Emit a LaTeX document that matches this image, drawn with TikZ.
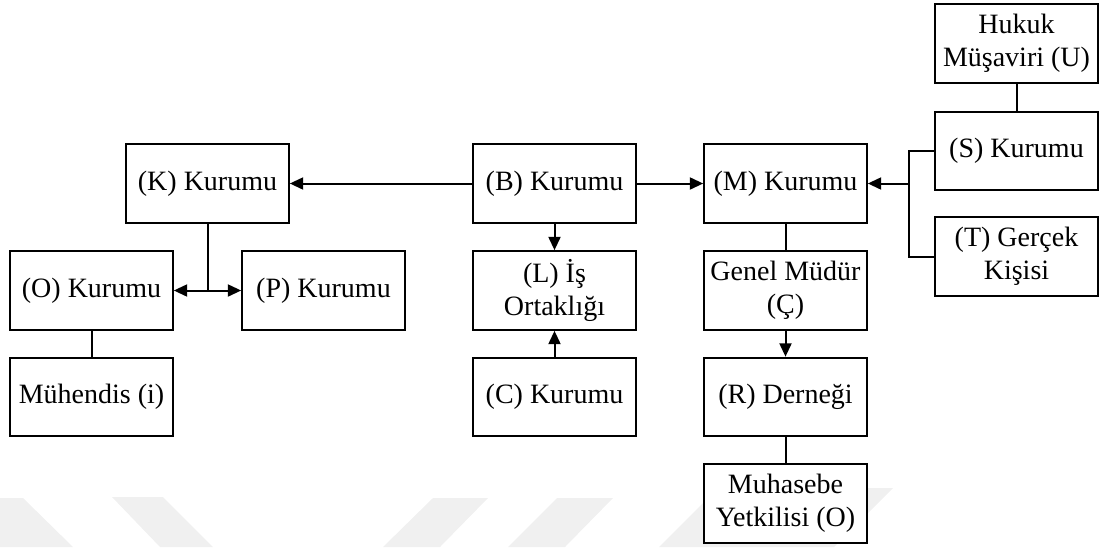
\documentclass[tikz,border=0pt]{standalone}
\usepackage{fontspec}
\setmainfont{Liberation Serif}
\usetikzlibrary{arrows.meta}

\begin{document}
\begin{tikzpicture}[
    x=0.75pt, y=-0.75pt,
    box/.style={draw, fill=white, line width=1.5pt,
                minimum width=122pt, minimum height=59pt,
                inner sep=0pt, align=center,
                font=\fontsize{21}{25}\selectfont},
    link/.style={line width=1.5pt},
    arr/.style={link, -{Triangle[length=10pt,width=9pt]}},
    stripe/.style={fill=black!6}
  ]
  \useasboundingbox (0,0) rectangle (1103,547);

  % faint background stripes along the lower edge
  \fill[stripe] (-10,498) -- (23,498) -- (73,547) -- (-10,547) -- cycle;
  \fill[stripe] (112,497) -- (163,497) -- (213,547) -- (160,547) -- cycle;
  \fill[stripe] (433,498) -- (488,498) -- (440,547) -- (383,547) -- cycle;
  \fill[stripe] (557,498) -- (613,498) -- (565,547) -- (508,547) -- cycle;
  \fill[stripe] (718,488) -- (893,488) -- (834,547) -- (659,547) -- cycle;

  % first row
  \node[box] (K) at (207.5,183.5) {(K) Kurumu};
  \node[box] (B) at (554.5,183.5) {(B) Kurumu};
  \node[box] (M) at (785.5,183.5) {(M) Kurumu};

  % second row
  \node[box] (O) at (91.5,290.5)  {(O) Kurumu};
  \node[box] (P) at (323.5,290.5) {(P) Kurumu};
  \node[box] (L) at (554.5,290.5) {(L) İş\\Ortaklığı};
  \node[box] (G) at (785.5,290.5) {Genel Müdür\\(Ç)};

  % third and fourth rows
  \node[box] (Mh) at (91.5,397)  {Mühendis (i)};
  \node[box] (C)  at (554.5,397) {(C) Kurumu};
  \node[box] (R)  at (785.5,397) {(R) Derneği};
  \node[box] (Mu) at (785.5,503.5) {Muhasebe\\Yetkilisi (O)};

  % right column
  \node[box] (U) at (1016.5,43.5)  {Hukuk\\Müşaviri (U)};
  \node[box] (S) at (1016.5,151)   {(S) Kurumu};
  \node[box] (T) at (1016.5,256.5) {(T) Gerçek\\Kişisi};

  % connectors from (B)
  \draw[arr] (B.west) -- (K.east);
  \draw[arr] (B.east) -- (M.west);
  \draw[arr] (B.south) -- (L.north);
  \draw[arr] (C.north) -- (L.south);

  % (K) splits to (O) and (P)
  \coordinate (kj) at (K.south |- O.east);
  \draw[link] (K.south) -- (kj);
  \draw[arr] (kj) -- (O.east);
  \draw[arr] (kj) -- (P.west);
  \draw[link] (O.south) -- (Mh.north);

  % chain below (M)
  \draw[link] (M.south) -- (G.north);
  \draw[arr] (G.south) -- (R.north);
  \draw[link] (R.south) -- (Mu.north);

  % (S) and (T) join into (M)
  \draw[link] (U.south) -- (S.north);
  \coordinate (bus) at (909,183.5);
  \draw[link] (S.west) -| (bus) |- (T.west);
  \draw[arr] (bus) -- (M.east);
\end{tikzpicture}
\end{document}
